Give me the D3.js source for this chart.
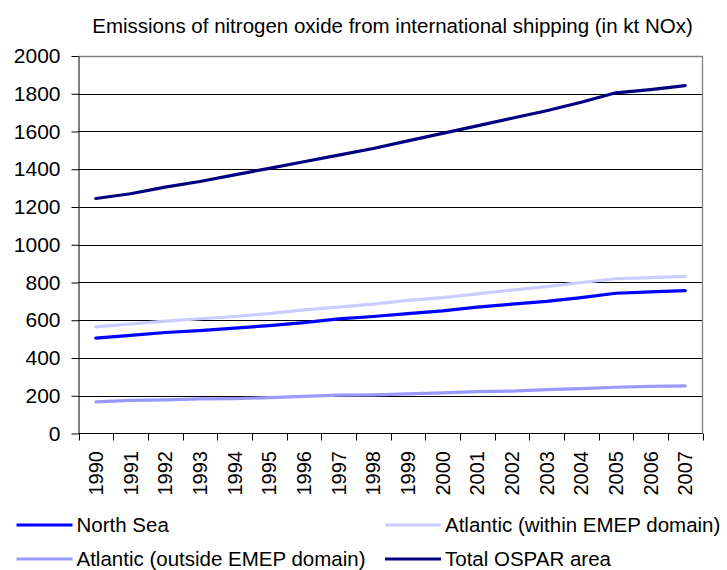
<!DOCTYPE html>
<html>
<head>
<meta charset="utf-8">
<script src="https://cdn.jsdelivr.net/npm/d3@7"></script>
<style>
  html, body { margin: 0; padding: 0; background: #fff; }
  svg { display: block; font-family: "Liberation Sans", Arial, sans-serif; }
</style>
</head>
<body>
<svg id="chart" width="727" height="570"></svg>
<script>
const years = ["1990","1991","1992","1993","1994","1995","1996","1997","1998","1999","2000","2001","2002","2003","2004","2005","2006","2007"];
const northSea = [505, 520, 535, 545, 558, 572, 587, 607, 620, 635, 650, 670, 685, 700, 720, 743, 750, 757];
const atlanticWithin = [565, 580, 595, 608, 620, 635, 655, 670, 685, 705, 720, 740, 760, 778, 800, 820, 826, 832];
const atlanticOutside = [168, 175, 178, 183, 185, 190, 197, 203, 205, 210, 215, 222, 225, 232, 238, 245, 250, 252];
const totalOspar = [1245, 1270, 1305, 1335, 1370, 1405, 1440, 1475, 1510, 1550, 1590, 1630, 1670, 1710, 1755, 1805, 1822, 1843];
const yTicks = [0, 200, 400, 600, 800, 1000, 1200, 1400, 1600, 1800, 2000];
const seriesNames = ["North Sea", "Atlantic (within EMEP domain)", "Atlantic (outside EMEP domain)", "Total OSPAR area"];
const seriesColors = ["#0000FF", "#CCCCFF", "#9999FF", "#000080"];
const titleText = "Emissions of nitrogen oxide from international shipping (in kt NOx)";

const series = [northSea, atlanticWithin, atlanticOutside, totalOspar];

const svg = d3.select("#chart");
const pLeft = 78.5, pRight = 702.5, pTop = 56, pBottom = 433.5;
const fontSize = 20.5;

const x = d3.scaleBand().domain(years).range([pLeft, pRight]);
const y = d3.scaleLinear().domain([0, 2000]).range([pBottom, pTop]);

// title
svg.append("text")
  .attr("x", 392.5).attr("y", 33)
  .attr("text-anchor", "middle")
  .attr("font-size", 20.5)
  .attr("fill", "#000")
  .text(titleText);

// gridlines
svg.append("g").selectAll("line")
  .data(yTicks.filter(d => d > 0 && d < 2000))
  .join("line")
  .attr("x1", pLeft).attr("x2", pRight)
  .attr("y1", d => Math.round(y(d)) + 0.5).attr("y2", d => Math.round(y(d)) + 0.5)
  .attr("stroke", "#000").attr("stroke-width", 1);

// plot border top/right
svg.append("path")
  .attr("d", `M${pLeft},${Math.round(y(2000)) + 0.5}H${pRight}V${pBottom}`)
  .attr("fill", "none").attr("stroke", "#808080").attr("stroke-width", 1.3);

// y axis
const yAxis = d3.axisLeft(y).tickValues(yTicks).tickFormat(d3.format("d"))
  .tickSize(7).tickPadding(11).tickSizeOuter(0);
const gy = svg.append("g").attr("transform", `translate(${pLeft},0)`).call(yAxis);
gy.selectAll("text").attr("font-size", 21).attr("fill", "#000").attr("font-family", "Liberation Sans, Arial, sans-serif");
gy.selectAll("line").attr("stroke", "#000");
gy.select(".domain").attr("stroke", "#000");

// x axis: ticks at band boundaries
const boundaries = years.map(d => x(d)).concat([pRight]);
svg.append("g").selectAll("line")
  .data(boundaries)
  .join("line")
  .attr("x1", d => Math.round(d) + 0.5).attr("x2", d => Math.round(d) + 0.5)
  .attr("y1", pBottom).attr("y2", pBottom + 7)
  .attr("stroke", "#000");
svg.append("line")
  .attr("x1", pLeft).attr("x2", pRight)
  .attr("y1", pBottom).attr("y2", pBottom)
  .attr("stroke", "#000");

// x labels
svg.append("g").selectAll("text")
  .data(years)
  .join("text")
  .attr("transform", d => `translate(${x(d) + x.bandwidth() / 2},451) rotate(-90)`)
  .attr("text-anchor", "end")
  .attr("dy", "0.35em")
  .attr("font-size", 20)
  .attr("fill", "#000")
  .text(d => d);

// lines
const line = d3.line()
  .x((d, i) => x(years[i]) + x.bandwidth() / 2)
  .y(d => y(d));

// draw order: outside, within, north sea, total
[2, 1, 0, 3].forEach(i => {
  svg.append("path")
    .datum(series[i])
    .attr("d", line)
    .attr("fill", "none")
    .attr("stroke", seriesColors[i])
    .attr("stroke-width", 3.2)
    .attr("stroke-linejoin", "round")
    .attr("stroke-linecap", "round");
});

// legend
const legendPos = [
  {x: 16.5, y: 525},
  {x: 385, y: 525},
  {x: 16.5, y: 559},
  {x: 385, y: 559}
];
seriesNames.forEach((name, i) => {
  const p = legendPos[i];
  svg.append("line")
    .attr("x1", p.x).attr("x2", p.x + 56)
    .attr("y1", p.y).attr("y2", p.y)
    .attr("stroke", seriesColors[i]).attr("stroke-width", 3.2);
  svg.append("text")
    .attr("x", p.x + 60).attr("y", p.y)
    .attr("dy", "0.35em")
    .attr("font-size", fontSize)
    .attr("fill", "#000")
    .text(name);
});
</script>
</body>
</html>
